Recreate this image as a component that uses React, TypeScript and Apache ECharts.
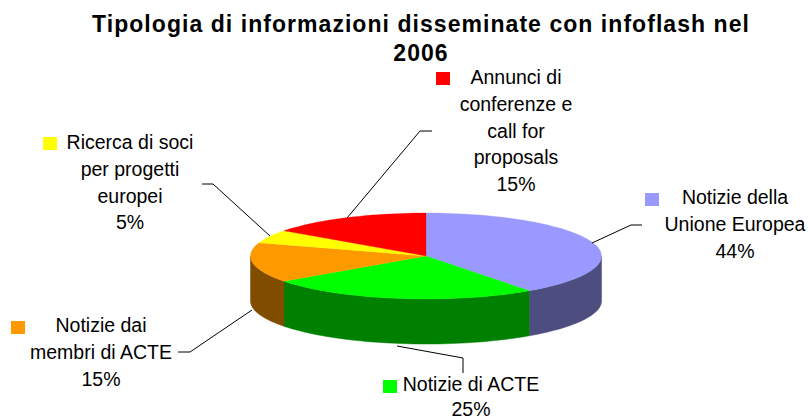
import React, { useEffect, useRef } from "react";
import * as echarts from "echarts";

const titleText = "Tipologia di informazioni disseminate con infoflash nel\n2006";
// Clockwise from 12 o'clock. Angles as drawn in the picture (the blue slice spans about 40% of the
// circle although its printed label says 44%).
const categories = [
  "Notizie della\nUnione Europea",
  "Notizie di ACTE",
  "Notizie dai\nmembri di ACTE",
  "Ricerca di soci\nper progetti\neuropei",
  "Annunci di\nconferenze e\ncall for\nproposals",
];
const drawnValues = [40, 25, 15, 5, 15];
const printedPercents = ["44%", "25%", "15%", "5%", "15%"];
const topColors = ["#9999FF", "#00FF00", "#FF9900", "#FFFF00", "#FF0000"];
const sideColors = ["#4D4D80", "#008000", "#804D00", "#808000", "#800000"];

const CX = 426;
const CY = 256;
const RX = 175.5;
const RY = 43;
const DEPTH = 45;
const FONT = '"Liberation Sans", Arial, sans-serif';

// label centre x, y of first line centre, line height, swatch x/y, leader-line points
const labelLayout = [
  { cx: 735, y: 197, lh: 26.8, sx: 645, sy: 193, line: [[592, 243], [631, 225], [642, 225]] },
  { cx: 471, y: 384, lh: 25, sx: 383, sy: 380, line: [[397, 346], [463, 358], [463, 373]] },
  { cx: 101, y: 325, lh: 26.8, sx: 11, sy: 321, line: [[252, 310], [190, 352], [178, 352]] },
  { cx: 130, y: 142, lh: 26.8, sx: 43, sy: 137, line: [[270, 236], [213, 184], [202, 184]] },
  { cx: 516, y: 77, lh: 26.8, sx: 436, sy: 72, line: [[347, 218], [420, 131], [432, 131]] },
];

const total = drawnValues.reduce((a, b) => a + b, 0);

function pt(deg: number, dy = 0): number[] {
  const r = (deg * Math.PI) / 180;
  return [CX + RX * Math.sin(r), CY - RY * Math.cos(r) + dy];
}

function arc(a: number, b: number, dy = 0): number[][] {
  const n = Math.max(2, Math.ceil(Math.abs(b - a) / 2));
  const out: number[][] = [];
  for (let i = 0; i <= n; i++) out.push(pt(a + ((b - a) * i) / n, dy));
  return out;
}

function renderSlice(params: any, api: any) {
  const i = params.dataIndex;
  const before = drawnValues.slice(0, i).reduce((a, b) => a + b, 0);
  const start = (before / total) * 360;
  const end = ((before + api.value(0)) / total) * 360;
  const children: any[] = [];

  const sStart = Math.max(start, 90);
  const sEnd = Math.min(end, 270);
  if (sEnd > sStart) {
    children.push({
      type: "polygon",
      z2: 1,
      silent: true,
      shape: { points: [...arc(sStart, sEnd), ...arc(sEnd, sStart, DEPTH)] },
      style: { fill: sideColors[i], stroke: sideColors[i], lineWidth: 0.5 },
    });
  }
  children.push({
    type: "polygon",
    z2: 5,
    silent: true,
    shape: { points: [[CX, CY], ...arc(start, end)] },
    style: { fill: topColors[i], stroke: topColors[i], lineWidth: 0.3 },
  });

  const lay = labelLayout[i];
  children.push({
    type: "polyline",
    z2: 8,
    silent: true,
    shape: { points: lay.line },
    style: { stroke: "#000000", lineWidth: 1, fill: "none" },
  });
  children.push({
    type: "rect",
    z2: 8,
    silent: true,
    shape: { x: lay.sx, y: lay.sy, width: 14, height: 13 },
    style: { fill: topColors[i] },
  });
  children.push({
    type: "text",
    z2: 9,
    silent: true,
    style: {
      text: categories[i] + "\n" + printedPercents[i],
      x: lay.cx,
      y: lay.y - lay.lh / 2,
      align: "center",
      verticalAlign: "top",
      fontFamily: FONT,
      fontSize: 19.5,
      lineHeight: lay.lh,
      fill: "#000000",
    },
  });
  return { type: "group", children };
}

export default function App() {
  const ref = useRef<HTMLDivElement>(null);
  useEffect(() => {
    document.body.style.margin = "0";
    const chart = echarts.init(ref.current!, undefined, { renderer: "svg" });
    chart.setOption({
      animation: false,
      backgroundColor: "#FFFFFF",
      title: {
        text: titleText,
        left: 416,
        top: 4,
        textAlign: "center",
        textStyle: {
          fontFamily: FONT,
          fontSize: 23,
          fontWeight: "bold",
          color: "#000000",
          lineHeight: 29,
        },
      },
      series: [
        {
          type: "custom",
          coordinateSystem: "none",
          renderItem: renderSlice,
          data: drawnValues.map((v) => [v]),
          silent: true,
        },
      ],
    });
    // the reference's title is set with wide letter spacing
    ref.current!.querySelectorAll("text").forEach((t: any) => {
      if (/bold/.test(t.getAttribute("style") || "")) t.style.letterSpacing = "1.05px";
    });
    return () => chart.dispose();
  }, []);
  return <div ref={ref} style={{ width: 808, height: 419 }} />;
}
